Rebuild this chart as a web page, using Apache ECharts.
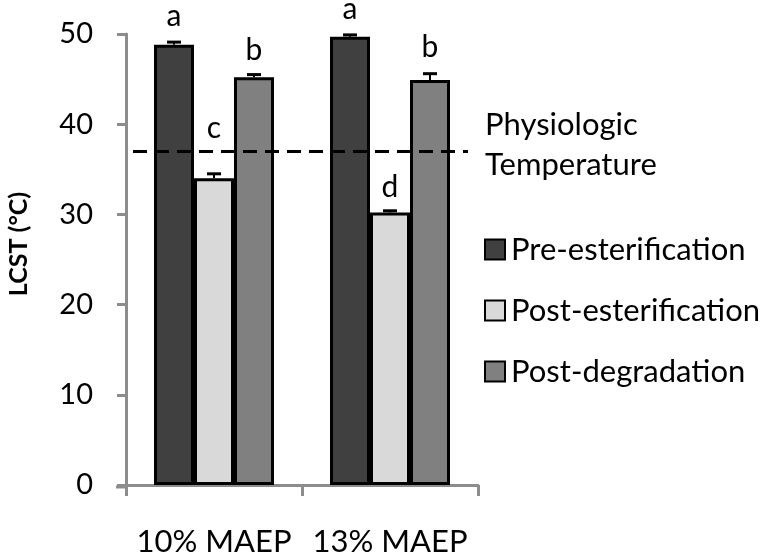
<!DOCTYPE html>
<html>
<head>
<meta charset="utf-8">
<script src="https://cdn.jsdelivr.net/npm/echarts@6/dist/echarts.min.js"></script>
<style>html,body{margin:0;padding:0;background:#fff}#c{width:765px;height:557px}</style>
</head>
<body>
<div id="c"></div>
<script>
// ---- data ----
var categories = ['10% MAEP', '13% MAEP'];
var seriesNames = ['Pre-esterification', 'Post-esterification', 'Post-degradation'];
var preEster = [48.8, 49.7];
var postEster = [34.0, 30.2];
var postDegr = [45.2, 44.9];
var preErr = [0.3, 0.2];
var postEsterErr = [0.5, 0.2];
var postDegrErr = [0.3, 0.7];
var preLetters = ['a', 'a'];
var postEsterLetters = ['c', 'd'];
var postDegrLetters = ['b', 'b'];
var physioTemp = 37;
var yTicks = [0, 10, 20, 30, 40, 50];

// ---- styling / layout ----
var FONT = 'Lato';
var colors = ['#404040', '#d9d9d9', '#808080'];
var BAR_W = 40;
var letterGaps = [[13, 12], [35, 10], [12, 18]];

var values = [preEster, postEster, postDegr];
var errs = [preErr, postEsterErr, postDegrErr];
var letters = [preLetters, postEsterLetters, postDegrLetters];

var series = [];
for (var s = 0; s < 3; s++) {
  (function (s) {
    series.push({
      name: seriesNames[s],
      type: 'bar',
      barWidth: BAR_W,
      barGap: '0%',
      itemStyle: { color: colors[s], borderColor: '#000', borderWidth: 3 },
      data: values[s].map(function (v, i) {
        return {
          value: v,
          label: {
            show: true,
            position: 'top',
            distance: letterGaps[s][i],
            formatter: letters[s][i],
            fontFamily: FONT,
            fontSize: 30,
            color: '#000'
          }
        };
      })
    });
  })(s);
}

var errData = [];
for (var s2 = 0; s2 < 3; s2++) {
  for (var i = 0; i < categories.length; i++) {
    errData.push([i, values[s2][i], errs[s2][i], s2 - 1]);
  }
}

series.push({
  type: 'custom',
  name: 'err',
  z: 5,
  encode: { x: 0, y: 1 },
  data: errData,
  renderItem: function (params, api) {
    var ci = api.value(0), v = api.value(1), e = api.value(2), off = api.value(3);
    var base = api.coord([ci, v]);
    var top = api.coord([ci, v + e]);
    var x = base[0] + off * BAR_W;
    return {
      type: 'group',
      children: [
        { type: 'line', shape: { x1: x, y1: base[1], x2: x, y2: top[1] }, style: { stroke: '#000', lineWidth: 2 } },
        { type: 'line', shape: { x1: x - 7, y1: top[1], x2: x + 7, y2: top[1] }, style: { stroke: '#000', lineWidth: 3 } }
      ]
    };
  },
  markLine: {
    silent: true,
    symbol: 'none',
    label: { show: false },
    lineStyle: { color: '#000', width: 3, type: [14, 8] },
    data: [[{ x: 133, yAxis: physioTemp }, { x: 468, yAxis: physioTemp }]]
  }
});

var chart = echarts.init(document.getElementById('c'), null, { renderer: 'canvas' });
chart.setOption({
  animation: false,
  backgroundColor: '#fff',
  grid: { left: 126, right: 287, top: 34, bottom: 70 },
  legend: {
    orient: 'vertical',
    left: 479,
    top: 229,
    itemWidth: 20,
    itemHeight: 20,
    itemGap: 30,
    icon: 'rect',
    data: seriesNames,
    itemStyle: { borderColor: '#000', borderWidth: 2 },
    textStyle: { fontFamily: FONT, fontSize: 31, color: '#000', padding: [0, 0, 0, 1] }
  },
  xAxis: {
    type: 'category',
    data: categories,
    axisLine: { lineStyle: { color: '#8c8c8c', width: 3 } },
    axisTick: { show: true, length: 11, lineStyle: { color: '#8c8c8c', width: 3 } },
    axisLabel: { fontFamily: FONT, fontSize: 31, color: '#000', margin: 41, interval: 0, hideOverlap: false }
  },
  yAxis: {
    type: 'value',
    min: yTicks[0],
    max: yTicks[yTicks.length - 1],
    interval: yTicks[1] - yTicks[0],
    splitLine: { show: false },
    axisLine: { show: true, lineStyle: { color: '#8c8c8c', width: 3 } },
    axisTick: { show: true, length: 9, lineStyle: { color: '#8c8c8c', width: 3 } },
    axisLabel: { fontFamily: FONT, fontSize: 29, color: '#000', margin: 33 }
  },
  graphic: [
    {
      type: 'text',
      x: 19, y: 244,
      rotation: Math.PI / 2,
      style: { text: 'LCST (°C)', font: 'bold 25px Lato', fill: '#000', align: 'center', verticalAlign: 'middle' }
    },
    {
      type: 'text',
      left: 485, top: 105,
      style: { text: 'Physiologic\nTemperature', font: '31px Lato', lineHeight: 40, fill: '#000' }
    },
    {
      type: 'line',
      shape: { x1: 116, y1: 487, x2: 126, y2: 487 },
      style: { stroke: '#8c8c8c', lineWidth: 3 }
    }
  ],
  series: series
});
</script>
</body>
</html>
